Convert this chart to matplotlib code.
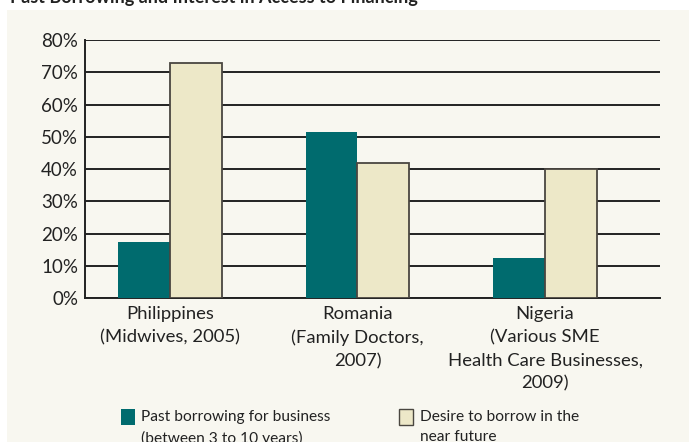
import matplotlib
matplotlib.use("Agg")
import matplotlib.pyplot as plt
from matplotlib.patches import Rectangle
import numpy as np

categories = ["Philippines\n(Midwives, 2005)",
              "Romania\n(Family Doctors,\n2007)",
              "Nigeria\n(Various SME\nHealth Care Businesses,\n2009)"]
past_borrowing = [17.4, 51.5, 12.4]
desire_borrow = [72.8, 41.8, 40.0]
series_labels = ["Past borrowing for business\n(between 3 to 10 years)",
                 "Desire to borrow in the\nnear future"]
ytick_values = [0, 10, 20, 30, 40, 50, 60, 70, 80]
title_text = "Past Borrowing and Interest in Access to Financing"

plt.rcParams['font.family'] = ['Lato', 'DejaVu Sans']

W, H = 689, 442
fig = plt.figure(figsize=(W / 100, H / 100), dpi=100)
fig.patch.set_facecolor("white")

bg = "#F8F7F0"
teal = "#006B6E"
cream = "#EDE8C8"
edge = "#4a4640"
dark = "#222222"

# panel background
fig.patches.append(Rectangle((7 / W, 0), 1 - 7 / W, 1 - 10 / H, transform=fig.transFigure,
                             facecolor=bg, edgecolor="none", zorder=-5))

# title (clipped at the top edge as in the reference)
fig.text(10 / W, 1 - 3 / H, title_text, ha="left", va="baseline", fontsize=13,
         fontweight="bold", color="#222222")

ax = fig.add_axes([85 / W, 1 - 298 / H, (660 - 85) / W, (298 - 40) / H])
ax.patch.set_alpha(0)

x = np.arange(len(categories))
bw = 0.277
ax.bar(x - bw / 2, past_borrowing, width=bw, color=teal, edgecolor="none", zorder=3)
ax.bar(x + bw / 2, desire_borrow, width=bw, color=cream, edgecolor=edge, linewidth=1.3, zorder=3)

ax.set_xlim(-0.453, 2.613)
ax.set_ylim(0, 80)
ax.set_yticks(ytick_values)
ax.set_yticklabels([f"{v}%" for v in ytick_values], fontsize=13.5, color="#222222")
ax.yaxis.grid(True, color=dark, linewidth=1.4, zorder=1)
ax.set_axisbelow(True)
ax.tick_params(axis="y", length=0, pad=5)
ax.tick_params(axis="x", length=0, pad=5.5)
ax.set_xticks(x)
ax.set_xticklabels(categories, fontsize=13.3, color="#222222", linespacing=1.55)

for s in ["top", "right"]:
    ax.spines[s].set_visible(False)
ax.spines["left"].set_color(dark)
ax.spines["left"].set_linewidth(1.4)
ax.spines["bottom"].set_color(dark)
ax.spines["bottom"].set_linewidth(1.4)

# legend
fig.patches.append(Rectangle((121 / W, 1 - 425 / H), 14 / W, 16 / H, transform=fig.transFigure,
                             facecolor=teal, edgecolor="none", zorder=3))
fig.text(141 / W, 1 - 410 / H, series_labels[0], ha="left", va="top", fontsize=11.2,
         color="#222222", linespacing=1.55)
fig.patches.append(Rectangle((399 / W, 1 - 425 / H), 14 / W, 16 / H, transform=fig.transFigure,
                             facecolor=cream, edgecolor=edge, linewidth=1.0, zorder=3))
fig.text(420 / W, 1 - 410 / H, series_labels[1], ha="left", va="top", fontsize=11.2,
         color="#222222", linespacing=1.55)

fig.savefig("out.png", dpi=100, facecolor=fig.get_facecolor())
